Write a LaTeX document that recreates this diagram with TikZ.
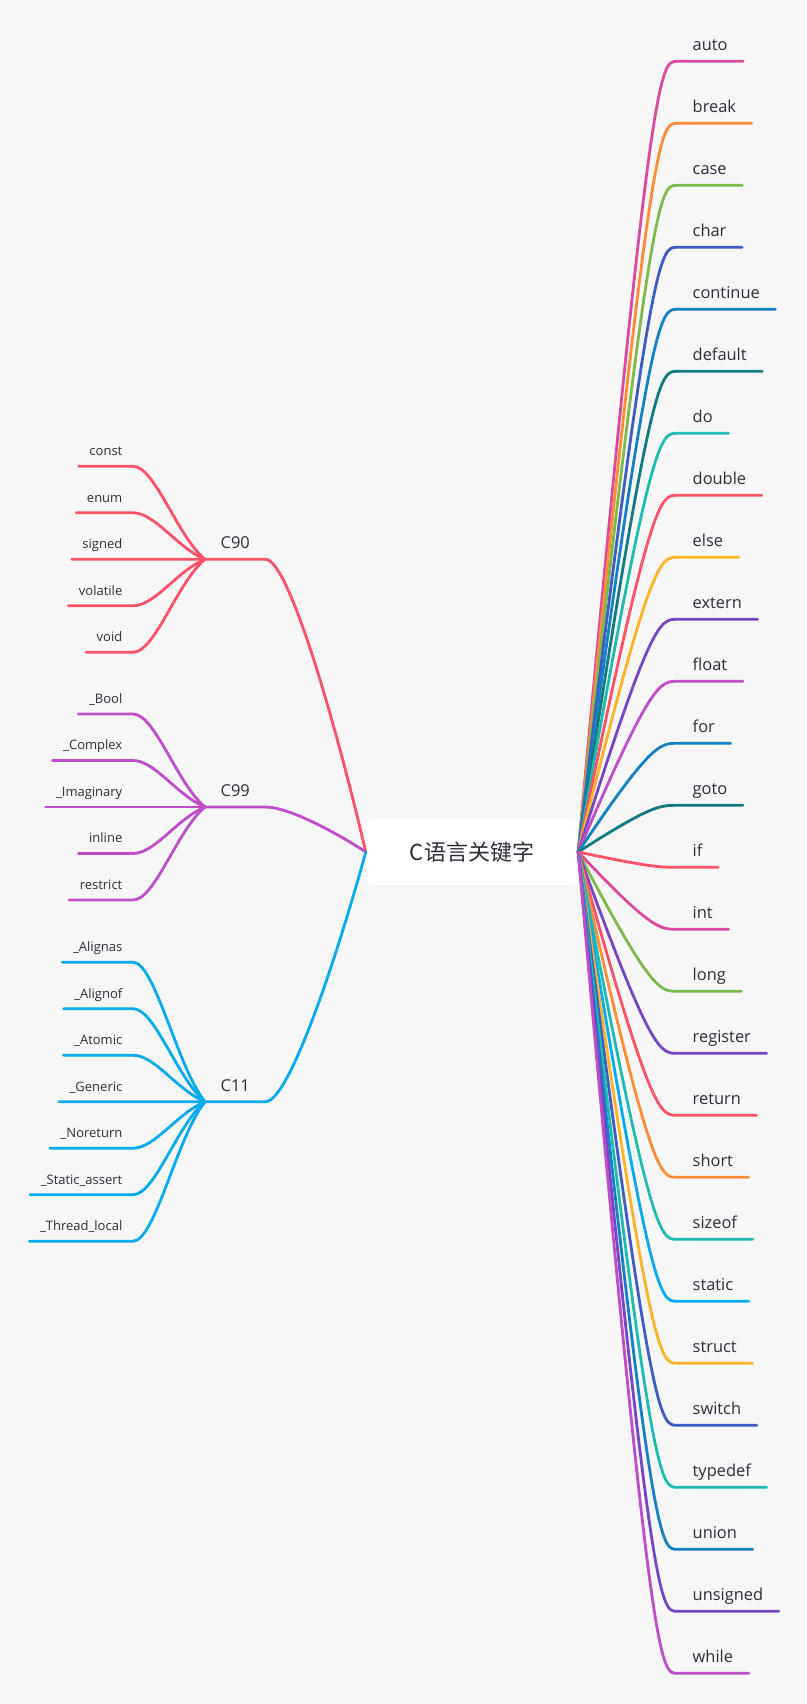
\documentclass[tikz,border=0pt]{standalone}
\usepackage{fontspec}
\setmainfont{Open Sans}
\newfontfamily\cjkfont{Noto Sans CJK SC}
\usetikzlibrary{calc}
\definecolor{paper}{HTML}{F7F7F7}
\definecolor{ink}{HTML}{2E2E3A}
\definecolor{kpink}{HTML}{DB4A9F}
\definecolor{korange}{HTML}{FF8C36}
\definecolor{kgreen}{HTML}{7DBA4A}
\definecolor{kindigo}{HTML}{3F5BC4}
\definecolor{kblue}{HTML}{1580C6}
\definecolor{kteal}{HTML}{137B80}
\definecolor{kcyan}{HTML}{1EBBAF}
\definecolor{kred}{HTML}{FF5266}
\definecolor{kyellow}{HTML}{FFB428}
\definecolor{kpurple}{HTML}{7646C4}
\definecolor{korchid}{HTML}{BF4CC8}
\definecolor{ksky}{HTML}{06AAEE}

\begin{document}
\begin{tikzpicture}[x=1pt,y=-1pt,
    branch/.style={line width=2.8pt,line cap=round},
    rootbox/.style={fill=white,rounded corners=7pt,minimum width=212pt,minimum height=66pt,
      text=ink,font=\cjkfont\fontsize{22}{26}\selectfont},
    kwlabel/.style={anchor=south west,inner xsep=15.5pt,inner ysep=10.5pt,text depth=0pt,
      text=ink,font=\fontsize{16.4}{19}\selectfont},
    grplabel/.style={kwlabel},
    leaflabel/.style={anchor=south east,inner xsep=10.5pt,inner ysep=10.5pt,text depth=0pt,
      text=ink,font=\fontsize{13}{15}\selectfont}]
  \fill[paper](0,0) rectangle(806,1704);
  \node[rootbox] (root) at (472,852){C语言关键字};
  % right: the keywords
  \foreach \kw/\col [count=\i from 0] in {auto/kpink,break/korange,case/kgreen,char/kindigo,
      continue/kblue,default/kteal,do/kcyan,double/kred,else/kyellow,extern/kpurple,
      float/korchid,for/kblue,goto/kteal,if/kred,int/kpink,long/kgreen,register/kpurple,
      return/kred,short/korange,sizeof/kcyan,static/ksky,struct/kyellow,switch/kindigo,
      typedef/kcyan,union/kblue,unsigned/kpurple,while/korchid}{
    \node[kwlabel] (kw\i) at (677,{61.3+62*\i}){\kw};
    \draw[branch,\col](root.east) .. controls ($(kw\i.south west)+(-26,0)$) and +(-17,0) .. (kw\i.south west)
      -- (kw\i.south east);
  }
  % left: the standards
  \foreach \grp/\gy/\col/\n/\leaves in {C90/559.3/kred/5/{const,enum,signed,volatile,void},
      C99/807/korchid/5/{\_Bool,\_Complex,\_Imaginary,inline,restrict},
      C11/1101.7/ksky/7/{\_Alignas,\_Alignof,\_Atomic,\_Generic,\_Noreturn,\_Static\_assert,\_Thread\_local}}{
    \node[grplabel] (g\grp) at (205,\gy){\grp};
    \draw[branch,\col](root.west)
      .. controls ($(root.west)!0.45!(root.west |- g\grp.south east)+(-31,0)$) and +(23,0) .. (g\grp.south east)
      -- (g\grp.south west);
    \foreach \lf [count=\j] in \leaves{
      \node[leaflabel] (l\grp\j) at (133,{\gy+(\j-(\n+1)/2)*46.5}){\lf};
      \draw[branch,\col](g\grp.south west)
        .. controls ($(g\grp.south west)!0.25!(l\grp\j.south east)+(-10,0)$) and +(22,0) .. (l\grp\j.south east)
        -- (l\grp\j.south west);
    }
  }
\end{tikzpicture}
\end{document}
